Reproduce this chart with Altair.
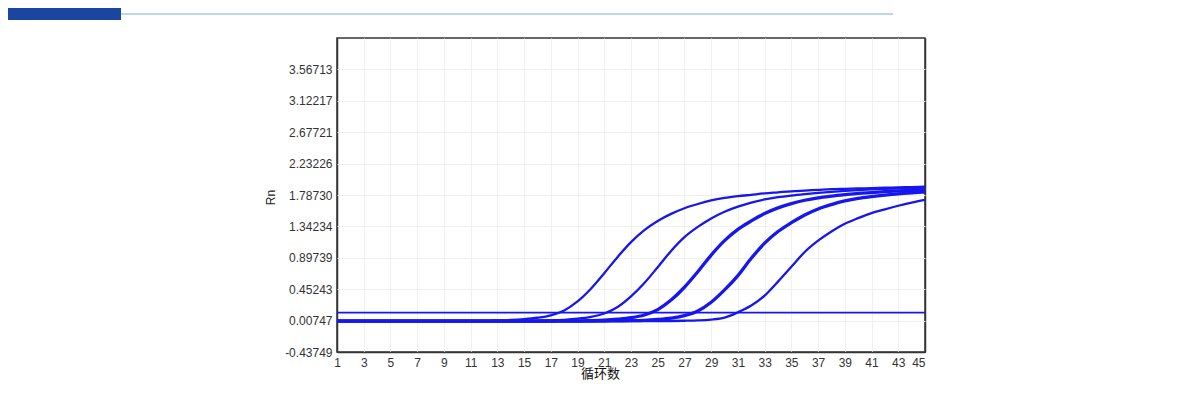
import altair as alt
import pandas as pd

cycles = [1, 2, 3, 4, 5, 6, 7, 8, 9, 10, 11, 12, 13, 14, 15, 16, 17, 18, 19, 20, 21, 22, 23,
          24, 25, 26, 27, 28, 29, 30, 31, 32, 33, 34, 35, 36, 37, 38, 39, 40, 41, 42, 43, 44, 45]

curve_a = [0.006, 0.006, 0.005, 0.006, 0.006, 0.005, 0.006, 0.006, 0.006, 0.005, 0.006, 0.006,
           0.010, 0.016, 0.028, 0.048, 0.083, 0.152, 0.28, 0.46, 0.68, 0.91, 1.12, 1.29, 1.42,
           1.52, 1.60, 1.66, 1.71, 1.745, 1.77, 1.79, 1.81, 1.825, 1.84, 1.85, 1.86, 1.87,
           1.875, 1.88, 1.885, 1.89, 1.895, 1.90, 1.905]
curve_b = [0.003, 0.003, 0.003, 0.003, 0.003, 0.003, 0.003, 0.003, 0.003, 0.003, 0.003, 0.003,
           0.004, 0.005, 0.006, 0.008, 0.011, 0.019, 0.034, 0.06, 0.108, 0.20, 0.35, 0.54, 0.765,
           0.995, 1.19, 1.335, 1.455, 1.55, 1.622, 1.68, 1.724, 1.756, 1.78, 1.80, 1.818, 1.833,
           1.846, 1.857, 1.866, 1.874, 1.881, 1.887, 1.893]
curve_c = [0.001, 0.001, 0.001, 0.001, 0.001, 0.001, 0.001, 0.001, 0.001, 0.001, 0.001, 0.001,
           0.001, 0.001, 0.001, 0.001, 0.002, 0.003, 0.004, 0.007, 0.013, 0.027, 0.048, 0.087,
           0.163, 0.298, 0.48, 0.70, 0.935, 1.14, 1.30, 1.42, 1.525, 1.605, 1.665, 1.713, 1.748,
           1.772, 1.792, 1.81, 1.822, 1.834, 1.845, 1.853, 1.86]
curve_d = [0.0, 0.0, 0.0, 0.0, 0.0, 0.0, 0.0, 0.0, 0.0, 0.0, 0.0, 0.0, 0.0, 0.0, 0.0, 0.0,
           0.0, 0.0, 0.0, 0.001, 0.002, 0.003, 0.006, 0.0114, 0.024, 0.043, 0.077, 0.143, 0.267,
           0.442, 0.645, 0.89, 1.105, 1.27, 1.395, 1.505, 1.59, 1.652, 1.703, 1.74, 1.765, 1.786,
           1.804, 1.818, 1.83]
curve_e = [-0.001, -0.001, -0.001, -0.001, -0.001, -0.001, -0.001, -0.001, -0.001, -0.001,
           -0.001, -0.001, -0.001, -0.001, -0.001, -0.001, -0.001, -0.001, -0.001, -0.001,
           -0.001, -0.001, -0.001, 0.0, 0.001, 0.002, 0.005, 0.01, 0.022, 0.05, 0.125, 0.22,
           0.36, 0.56, 0.77, 0.98, 1.14, 1.27, 1.38, 1.46, 1.53, 1.585, 1.635, 1.68, 1.72]

curve_names = ["A", "B", "C", "D", "E"]
threshold = [0.12]

x_ticks = [1, 3, 5, 7, 9, 11, 13, 15, 17, 19, 21, 23, 25, 27, 29, 31, 33, 35, 37, 39, 41, 43, 45]
y_ticks = [-0.43749, 0.00747, 0.45243, 0.89739, 1.34234, 1.78730, 2.23226, 2.67721, 3.12217, 3.56713]
x_domain = [1, 45]
y_domain = [-0.43749, 4.01209]

rows = []
for name, vals in zip(curve_names, [curve_a, curve_b, curve_c, curve_d, curve_e]):
    for c, v in zip(cycles, vals):
        rows.append({"cycle": c, "rn": v, "curve": name})
df = pd.DataFrame(rows)

BLUE = "#1616ee"
FRAME = "#353535"
GRID = "#f0f0f0"
LABEL_FONT = "Liberation Sans"

x_axis = alt.Axis(
    values=x_ticks, title="循环数", labelFlush=False, labelOverlap=False,
    labelAlign=alt.expr("datum.value >= 45 ? 'right' : 'center'"),
    gridColor=alt.expr(f"(datum.value <= 1 || datum.value >= 45) ? '{FRAME}' : '{GRID}'"),
    gridWidth=alt.expr("(datum.value <= 1 || datum.value >= 45) ? 1.5 : 1"),
    titleX=263, titleY=21, titleAlign="center", titleBaseline="middle",
    titleFont="Noto Sans CJK SC", titleFontSize=13, titleFontWeight="normal",
    titleColor="#111111",
)
y_axis = alt.Axis(
    values=y_ticks, format=".5f", title="Rn", labelOverlap=False, labelSeparation=0,
    labelExpr="replace(datum.label, '−', '-')",
    gridColor=alt.expr(f"datum.value <= -0.437 ? '{FRAME}' : '{GRID}'"),
    gridWidth=alt.expr("datum.value <= -0.437 ? 1.5 : 1"),
    titleX=-67, titleY=159, titleAngle=270, titleAlign="center",
    titleBaseline="middle", titleFont=LABEL_FONT, titleFontSize=12,
    titleFontWeight="normal", titleColor="#222222",
)
x_scale = alt.Scale(domain=x_domain, nice=False, zero=False)
y_scale = alt.Scale(domain=y_domain, nice=False, zero=False)

lines = alt.Chart(df).mark_line(color=BLUE, clip=True, interpolate="monotone").encode(
    x=alt.X("cycle:Q", scale=x_scale, axis=x_axis),
    y=alt.Y("rn:Q", scale=y_scale, axis=y_axis),
    detail="curve:N",
    strokeWidth=alt.condition(
        alt.FieldOneOfPredicate(field="curve", oneOf=["C", "D"]),
        alt.value(3.3), alt.value(2.3)
    ),
)

thr = alt.Chart(pd.DataFrame({"rn": threshold})).mark_rule(color=BLUE, strokeWidth=1.6).encode(
    y=alt.Y("rn:Q", scale=y_scale, axis=y_axis)
)

header_bar = alt.Chart(pd.DataFrame({"k": [0]})).mark_rect(color="#1b46a0").encode(
    x=alt.value(-329), x2=alt.value(-216), y=alt.value(-30), y2=alt.value(-18)
)
header_line = alt.Chart(pd.DataFrame({"k": [0]})).mark_rect(color="#bcd6ef").encode(
    x=alt.value(-216), x2=alt.value(556), y=alt.value(-25), y2=alt.value(-23)
)

chart = alt.layer(header_bar, header_line, lines, thr).properties(
    width=588,
    height=314,
    autosize=alt.AutoSizeParams(type="none"),
    padding={"left": 329, "top": 30, "right": 250, "bottom": 45},
).configure_view(
    stroke=FRAME, strokeWidth=1.5
).configure_axis(
    domain=False, ticks=False, grid=True,
    labelFont=LABEL_FONT, labelFontSize=12, labelColor="#333333", labelPadding=5,
    labelOverlap=False,
)

chart.save("out.html", embed_options={"renderer": "svg", "actions": False})
